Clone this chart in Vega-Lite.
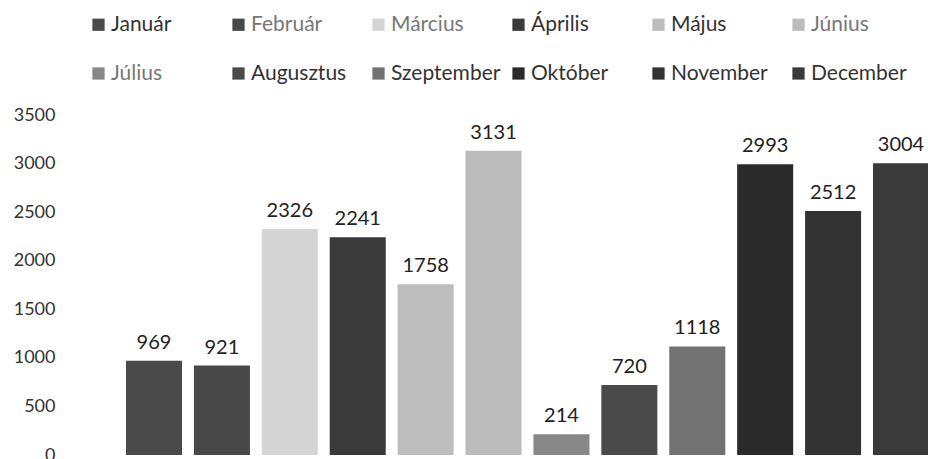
{
  "$schema": "https://vega.github.io/schema/vega-lite/v6.json",
  "autosize": "none",
  "width": 803,
  "height": 340,
  "padding": {"left": 126, "top": 115, "right": 0, "bottom": 4},
  "background": "white",
  "config": {
    "view": {"stroke": null},
    "font": "Lato",
    "legend": {"gridAlign": "all"}
  },
  "data": {
    "values": [
      {"honap": "Január", "ertek": 969},
      {"honap": "Február", "ertek": 921},
      {"honap": "Március", "ertek": 2326},
      {"honap": "Április", "ertek": 2241},
      {"honap": "Május", "ertek": 1758},
      {"honap": "Június", "ertek": 3131},
      {"honap": "Július", "ertek": 214},
      {"honap": "Augusztus", "ertek": 720},
      {"honap": "Szeptember", "ertek": 1118},
      {"honap": "Október", "ertek": 2993},
      {"honap": "November", "ertek": 2512},
      {"honap": "December", "ertek": 3004}
    ]
  },
  "encoding": {
    "x": {
      "field": "honap",
      "type": "nominal",
      "sort": null,
      "scale": {"paddingInner": 0.175, "paddingOuter": 0},
      "axis": null
    },
    "y": {
      "field": "ertek",
      "type": "quantitative",
      "scale": {"domain": [0, 3500]},
      "axis": {
        "values": [0, 500, 1000, 1500, 2000, 2500, 3000, 3500],
        "format": "d",
        "grid": false,
        "ticks": false,
        "domain": false,
        "title": null,
        "offset": 66,
        "labelPadding": 5,
        "labelFontSize": 18,
        "labelColor": "#333333",
        "labelFont": "Lato"
      }
    }
  },
  "layer": [
    {
      "mark": {"type": "bar"},
      "encoding": {
        "color": {
          "field": "honap",
          "type": "nominal",
          "sort": null,
          "scale": {
            "domain": ["Január", "Február", "Március", "Április", "Május", "Június", "Július", "Augusztus", "Szeptember", "Október", "November", "December"],
            "range": ["#4a4a4a", "#484848", "#d5d5d5", "#3a3a3a", "#bdbdbd", "#bcbcbc", "#888888", "#4a4a4a", "#727272", "#2a2a2a", "#333333", "#3a3a3a"]
          },
          "legend": {
            "orient": "none",
            "legendX": -38,
            "legendY": -101,
            "direction": "horizontal",
            "columns": 6,
            "title": null,
            "symbolType": "square",
            "symbolSize": 150,
            "symbolStrokeWidth": 0,
            "labelFontSize": 21,
            "labelColor": "#333333",
            "labelFont": "Lato",
            "labelOffset": 2,
            "columnPadding": 7,
            "rowPadding": 27,
            "labelLimit": 200,
            "encode": {
              "labels": {
                "update": {
                  "fill": {"signal": "indexof(['Február','Március','Június','Július'], datum.value) >= 0 ? '#777777' : '#333333'"}
                }
              }
            }
          }
        }
      }
    },
    {
      "mark": {"type": "text", "baseline": "bottom", "dy": -8, "fontSize": 20, "font": "Lato", "color": "#222222"},
      "encoding": {
        "text": {"field": "ertek", "type": "quantitative", "format": "d"}
      }
    }
  ]
}
